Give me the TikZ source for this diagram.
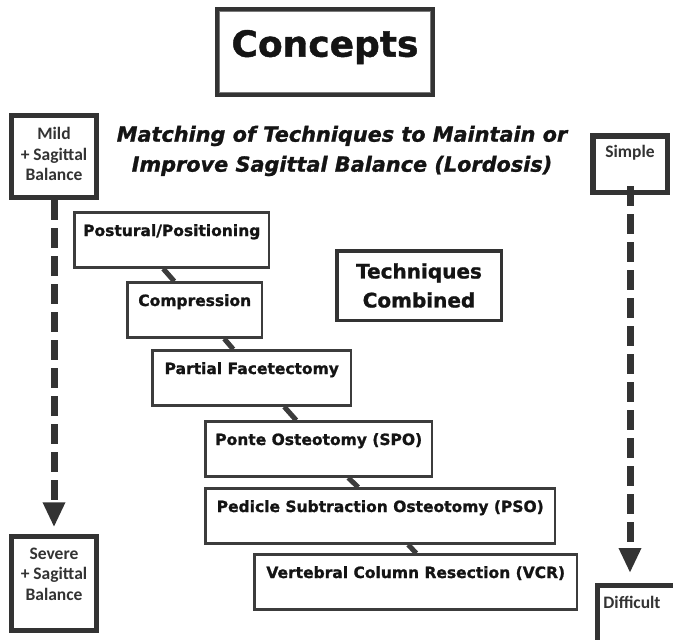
\documentclass[tikz,border=0pt]{standalone}
\usepackage{fontspec}
\setmainfont{DejaVu Sans}[BoldFeatures={FakeBold=1.2}, BoldItalicFeatures={FakeBold=1.2}]
\newfontfamily\sidefont{Carlito}
\usetikzlibrary{arrows.meta}
\definecolor{boxgray}{HTML}{333333}
\definecolor{linegray}{HTML}{3C3C3C}
\definecolor{rimgray}{HTML}{7A7A7A}
\definecolor{inkblack}{HTML}{141414}

\begin{document}
\begin{tikzpicture}
	  [
	    x                    = 1pt,
	    y                    = -1pt,
	    every node/.style    = {inner sep=0pt, text=inkblack},
	    technique/.style     = {draw=linegray, line width=2.5pt, fill=white, anchor=north west,
	                            font=\fontsize{15.5}{18}\bfseries, text height=23.5pt, text depth=31.5pt},
	    sidebox/.style       = {draw=boxgray, line width=5.5pt, fill=white, minimum width=85pt},
	    sidelabel/.style     = {align=center, text=boxgray, font=\sidefont\fontsize{17.5}{20.5}\bfseries},
	    flow/.style          = {draw=boxgray, line width=7pt, dash pattern=on 20pt off 8pt,
	                            -{Triangle[width=21pt,length=25pt]}},
	    link/.style          = {draw=linegray, line width=5pt}
	  ]
	  \useasboundingbox (0,0) rectangle (673,640);

	  \node [draw=boxgray, line width=4pt, minimum width=216pt, text height=47.7pt, text depth=38.3pt,
	         font=\fontsize{36}{40}\bfseries] (concepts) at (325,52) {Concepts};
	  \draw [rimgray, line width=1.5pt] ([shift={(4.5pt,-4.5pt)}]concepts.north west)
	        rectangle ([shift={(-4.5pt,4.5pt)}]concepts.south east);

	  \node [align=center, font=\fontsize{20.8}{30}\bfseries\itshape] (subtitle) at (342,151)
	        {Matching of Techniques to Maintain or\\Improve Sagittal Balance (Lordosis)};

	  \node [draw=boxgray, line width=3.5pt, minimum width=164.5pt, minimum height=69.5pt,
	         align=center, font=\fontsize{20}{29}\bfseries] (combined) at (419,285.5) {Techniques\\Combined};

	  \node [technique, minimum width=194.5pt] (postural)    at (73.25,211.25)  {Postural/Positioning};
	  \node [technique, minimum width=134.5pt] (compression) at (126.25,281.25) {Compression};
	  \node [technique, minimum width=198.5pt] (facetectomy) at (151.25,349.25) {Partial Facetectomy};
	  \node [technique, minimum width=226.5pt] (ponte)       at (204.25,420.25) {Ponte Osteotomy (SPO)};
	  \node [technique, minimum width=349.5pt] (pso)         at (204.25,487.25) {Pedicle Subtraction Osteotomy (PSO)};
	  \node [technique, minimum width=322.5pt] (vcr)         at (253.25,553.25) {Vertebral Column Resection (VCR)};

	  \draw [link] ([xshift=-8.5pt]postural.south)    -- ([xshift=-20.5pt]compression.north);
	  \draw [link] ([xshift=29.5pt]compression.south) -- ([xshift=-18.5pt]facetectomy.north);
	  \draw [link] ([xshift=32.5pt]facetectomy.south) -- ([xshift=-22.5pt]ponte.north);
	  \draw [link] ([xshift=29.5pt]ponte.south)       -- ([xshift=-22pt]pso.north);
	  \draw [link] ([xshift=28pt]pso.south)           -- ([xshift=0.5pt]vcr.north);

	  \node [sidebox, minimum height=82pt] (mild) at (54,156.5) {};
	  \node [sidelabel] (mildlabel) at (54,154) {Mild\\+ Sagittal\\Balance};
	  \node [sidebox, minimum height=94pt] (severe) at (54,583.5) {};
	  \node [sidelabel] (severelabel) at (54,574) {Severe\\+ Sagittal\\Balance};

	  \node [sidebox, minimum width=74.5pt, minimum height=56.5pt] (simple) at (630,164) {};
	  \node [sidelabel] (simplelabel) at (630,153) {Simple};
	  \node [sidebox, anchor=north west, minimum width=100pt, minimum height=90pt] (difficult) at (594.75,582.75) {};
	  \node [sidelabel] (difficultlabel) at (632,602) {Difficult};

	  \draw [flow, shorten >=6.5pt] (mild) -- (severe);
	  \draw [flow, shorten >=9.75pt] ([yshift=9pt]simple.south) -- (simple.south |- difficult.north);
\end{tikzpicture}
\end{document}
